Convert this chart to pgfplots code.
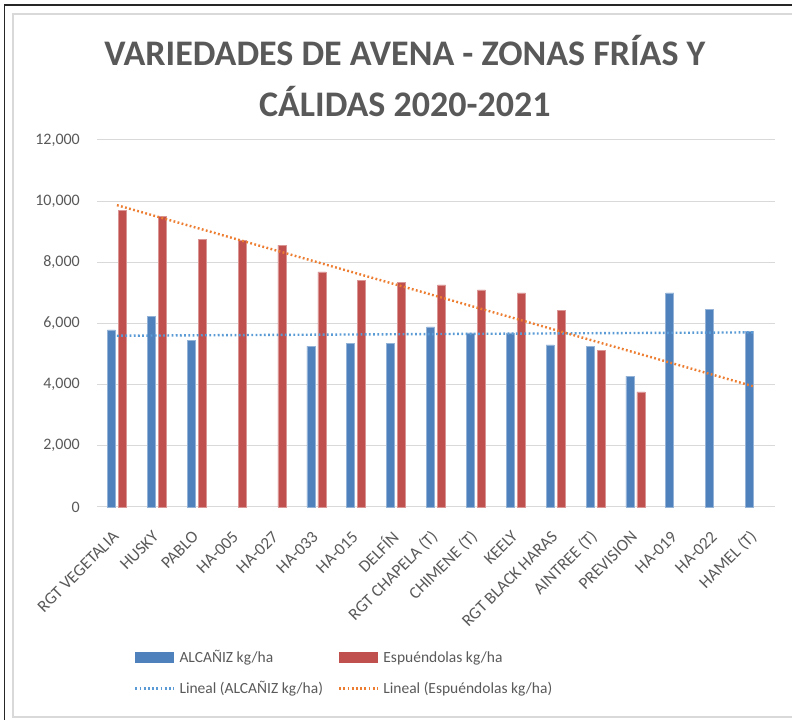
\documentclass[border=0pt]{standalone}
\usepackage{pgfplots}
\pgfplotsset{compat=1.18}
\usepackage{fontspec}
\setmainfont{Carlito}
\definecolor{txt}{HTML}{595959}
\definecolor{grd}{HTML}{D9D9D9}
\definecolor{cblue}{HTML}{4F81BD}
\definecolor{cred}{HTML}{C0504D}
\definecolor{tblue}{HTML}{5B9BD5}
\definecolor{torange}{HTML}{ED7D31}
\pgfplotsset{trendleg/.style={legend image code/.code={\draw[##1] (0pt,0pt) -- (38pt,0pt);}}}

\begin{document}
\begin{tikzpicture}
\begin{axis}[
  width=678pt, height=367pt, scale only axis,
  xmin=0.5, xmax=17.5, ymin=0, ymax=12000,
  ytick={0,2000,...,12000},
  xtick={1,...,17},
  xticklabels={RGT VEGETALIA,HUSKY,PABLO,HA-005,HA-027,HA-033,HA-015,DELFÍN,RGT CHAPELA (T),CHIMENE (T),KEELY,RGT BLACK HARAS,AINTREE (T),PREVISION,HA-019,HA-022,HAMEL (T)},
  xticklabel style={xshift=-1pt, yshift=-27pt, rotate=45, anchor=east, inner sep=0pt, font=\fontsize{17}{18}\selectfont, text=txt},
  yticklabel style={font=\fontsize{16}{18}\selectfont, text=txt, inner sep=0pt, xshift=-17pt},
  /pgf/number format/.cd, 1000 sep={,}, assume math mode=true, /pgfplots/.cd,
  scaled y ticks=false,
  ymajorgrids, grid style={grd, line width=1pt},
  axis line style={draw=none},
  x axis line style={draw=grd, line width=1pt},
  axis x line*=bottom, axis y line*=left,
  major tick length=0pt,
  clip=false,
  legend columns=2,
  legend cell align=left,
  legend style={at={(axis description cs:0.05,-0.38)}, anchor=north west, draw=none, fill=none,
    font=\fontsize{15.5}{18}\selectfont, text=txt,
    /tikz/every odd column/.append style={column sep=3pt},
    /tikz/every even column/.append style={column sep=13pt},
    row sep=13pt},
]
\addplot[ybar, bar width=8pt, bar shift=-5.5pt, fill=cblue, draw=cblue!60!white, line width=0.6pt,
  legend image code/.code={\fill[cblue] (0pt,-5pt) rectangle (38pt,5pt);}]
  coordinates {(1,5790) (2,6230) (3,5450) (6,5260) (7,5350) (8,5350) (9,5890) (10,5690) (11,5690) (12,5300) (13,5260) (14,4280) (15,7000) (16,6470) (17,5750)};
\addlegendentry{ALCAÑIZ kg/ha}
\addplot[ybar, bar width=8pt, bar shift=5.5pt, fill=cred, draw=cred!60!white, line width=0.6pt,
  legend image code/.code={\fill[cred] (0pt,-5pt) rectangle (38pt,5pt);}]
  coordinates {(1,9690) (2,9490) (3,8760) (4,8720) (5,8560) (6,7690) (7,7400) (8,7340) (9,7260) (10,7100) (11,7000) (12,6420) (13,5110) (14,3760)};
\addlegendentry{Espuéndolas kg/ha}
\addplot[tblue, line width=2.4pt, dash pattern=on 1.8pt off 2.4pt, trendleg]
  coordinates {(1,5600) (17,5710)};
\addlegendentry{Lineal (ALCAÑIZ kg/ha)}
\addplot[torange, line width=2.4pt, dash pattern=on 1.8pt off 2.4pt, trendleg]
  coordinates {(1,9870) (17,3930)};
\addlegendentry{Lineal (Espuéndolas kg/ha)}
\node[font=\bfseries\fontsize{36}{51}\selectfont, text=txt, align=center] at (axis description cs:0.454,1.174) {VARIEDADES DE AVENA - ZONAS FRÍAS Y\\CÁLIDAS 2020-2021};
\draw[grd, line width=1.2pt] (axis description cs:1.05,-0.5722) -- (axis description cs:-0.1239,-0.5722) -- (axis description cs:-0.1239,1.3433) -- (axis description cs:1.05,1.3433);
\draw[black!85, line width=1.3pt] (axis description cs:-0.1364,-0.60) -- (axis description cs:-0.1364,1.3678) -- (axis description cs:1.05,1.3678);
\coordinate (bbA) at (axis description cs:-0.1431,-0.5804);
\coordinate (bbB) at (axis description cs:1.0251,1.3815);
\end{axis}
\pgfresetboundingbox
\useasboundingbox (bbA) rectangle (bbB);
\end{tikzpicture}
\end{document}
